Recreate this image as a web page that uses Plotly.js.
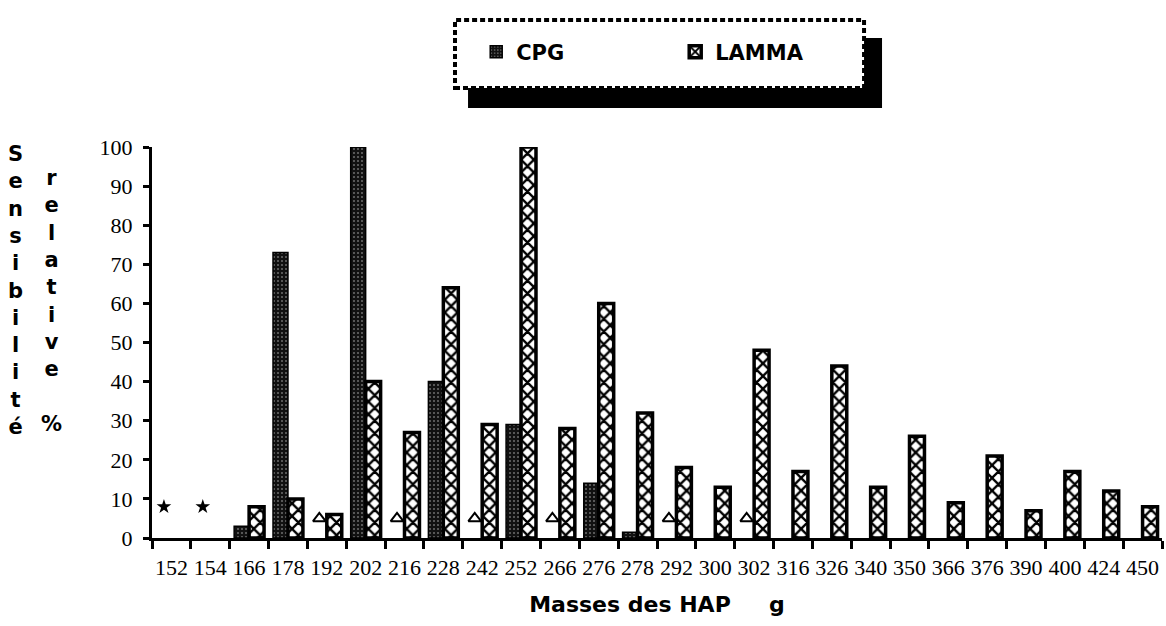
<!DOCTYPE html>
<html>
<head>
<meta charset="utf-8">
<script src="https://cdn.plot.ly/plotly-3.0.1.min.js"></script>
<style>html,body{margin:0;padding:0;background:#fff;}#chart{width:1166px;height:626px;}</style>
</head>
<body>
<div id="chart"></div>
<script>
// Data
const masses = ["152","154","166","178","192","202","216","228","242","252","266","276","278","292","300","302","316","326","340","350","366","376","390","400","424","450"];
const cpg =   [null, null, 3, 73, null, 100, null, 40, null, 29, null, 14, 1.5, null, null, null, null, null, null, null, null, null, null, null, null, null];
const lamma = [null, null, 8, 10, 6, 40, 27, 64, 29, 100, 28, 60, 32, 18, 13, 48, 17, 44, 13, 26, 9, 21, 7, 17, 12, 8];
// special symbols plotted at the CPG slot
const starMark = [8, 8, null, null, null, null, null, null, null, null, null, null, null, null, null, null, null, null, null, null, null, null, null, null, null, null];
const triMark  = [null, null, null, null, 5, null, 5, null, 5, null, 5, null, null, 5, null, 5, null, null, null, null, null, null, null, null, null, null];
const yTitleLeft = "Sensibilité";
const yTitleRight = "relative %";
const xTitle = "Masses des HAP";
const xUnit = "g";

const bargap = 0.23;
const slotOffset = (1 - bargap) / 4; // centre of the CPG bar relative to the category centre
const idx = masses.map((m, i) => i - slotOffset);

const traces = [
  {type: 'bar', name: 'CPG', x: masses, y: cpg,
   marker: {color: '#111', line: {color: '#000', width: 1.5},
            pattern: {shape: '.', fgcolor: '#6e6e6e', bgcolor: '#111', size: 4, solidity: 0.2}}},
  {type: 'bar', name: 'LAMMA', x: masses, y: lamma,
   marker: {color: '#fff', line: {color: '#000', width: 3.5},
            pattern: {shape: 'x', fgcolor: '#000', bgcolor: '#fff', size: 9, solidity: 0.45}}},
  {type: 'scatter', mode: 'markers', x: idx, y: starMark, xaxis: 'x2', showlegend: false,
   marker: {symbol: 'star', size: 11, color: '#000'}},
  {type: 'scatter', mode: 'markers', x: idx, y: triMark, xaxis: 'x2', showlegend: false,
   marker: {symbol: 'triangle-up-open', size: 11, color: '#000', line: {width: 2, color: '#000'}}}
];

const letters = s => s.split('').map(c => c === ' ' ? '\u00a0' : c).join('<br>');

const layout = {
  width: 1166, height: 626,
  paper_bgcolor: '#fff', plot_bgcolor: '#fff',
  margin: {l: 152, r: 4, t: 147, b: 88},
  barmode: 'group', bargap: bargap, bargroupgap: 0,
  showlegend: true,
  font: {family: 'Liberation Serif', color: '#000', size: 20},
  xaxis: {
    type: 'category', tickson: 'boundaries', ticks: 'outside', ticklen: 8, tickwidth: 3, tickcolor: '#000',
    tickangle: 0, showline: true, linewidth: 3, linecolor: '#000', showgrid: false, zeroline: false,
    tickfont: {family: 'Liberation Serif', size: 22, color: '#000'}, ticklabelstandoff: 8,
    title: {text: xTitle + '\u00a0\u00a0\u00a0\u00a0\u00a0' + xUnit, standoff: 18,
            font: {family: 'DejaVu Sans', size: 22, weight: 'bold', color: '#000'}}
  },
  xaxis2: {overlaying: 'x', range: [-0.5, masses.length - 0.5], visible: false, fixedrange: true},
  yaxis: {
    range: [0, 100], dtick: 10, ticks: 'outside', ticklen: 6, tickwidth: 3, tickcolor: '#000',
    showline: true, linewidth: 3, linecolor: '#000', showgrid: false, zeroline: false,
    tickfont: {family: 'Liberation Serif', size: 22, color: '#000'}, ticklabelstandoff: 6
  },
  legend: {
    orientation: 'h', xref: 'paper', yref: 'paper', x: 0.321, y: 1.243, xanchor: 'left', yanchor: 'middle',
    bgcolor: 'rgba(0,0,0,0)', borderwidth: 0, entrywidth: 154, entrywidthmode: 'pixels',
    font: {family: 'DejaVu Sans', size: 21, weight: 'bold', color: '#000'}
  },
  shapes: [
    {type: 'rect', xref: 'paper', yref: 'paper', x0: 0.3129, x1: 0.7228, y0: 1.0998, y1: 1.2787,
     fillcolor: '#000', line: {width: 0}},
    {type: 'rect', xref: 'paper', yref: 'paper', x0: 0.300, x1: 0.705, y0: 1.1509, y1: 1.3248,
     fillcolor: '#fff', line: {color: '#000', width: 4, dash: '5px,3px'}}
  ],
  annotations: [
    {xref: 'paper', yref: 'paper', x: -0.1356, y: 0.632, xanchor: 'center', yanchor: 'middle', showarrow: false,
     text: letters(yTitleLeft), font: {family: 'DejaVu Sans', size: 21, weight: 'bold', color: '#000'}},
    {xref: 'paper', yref: 'paper', x: -0.1, y: 0.606, xanchor: 'center', yanchor: 'middle', showarrow: false,
     text: letters(yTitleRight), font: {family: 'DejaVu Sans', size: 21, weight: 'bold', color: '#000'}}
  ]
};

Plotly.newPlot('chart', traces, layout, {displayModeBar: false, staticPlot: true});
</script>
</body>
</html>
